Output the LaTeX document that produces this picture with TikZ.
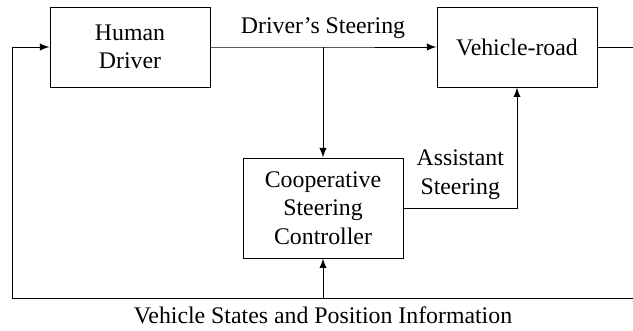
\documentclass[tikz,border=0pt]{standalone}
\usepackage{fontspec}
\setmainfont{Liberation Serif}
\usetikzlibrary{arrows.meta}

\begin{document}
\begin{tikzpicture}[x=0.42pt, y=-0.42pt,
    block/.style={draw, align=center, minimum width=67.2pt, minimum height=33.6pt}]
    \useasboundingbox (0,0) rectangle (633,331);
    
    \node[block] (HD) at (130,47) {Human\\Driver};
    \node[block] (VR) at (517,47) {Vehicle-road};
    \node[block, minimum height=42pt] (CSC) at (323,208) {Cooperative\\Steering\\Controller};
    
    \coordinate (B1) at (323,47);
    \coordinate (OUT) at (633,47);
    \coordinate (FR) at (633,298);
    \coordinate (FB) at (323,298);
    \coordinate (FL) at (12,298);
    \coordinate (FT) at (12,47);
    
    \draw[-latex] (HD.east) -- (B1) node[above] {Driver's Steering} -- (VR.west);
    \draw[-latex] (B1) -- (CSC.north);
    \draw[-latex] (CSC.east) -| node[pos=0.25, above, align=center] {Assistant\\Steering} (VR.south);
    \draw (VR.east) -- (OUT);
    
    \draw[-latex] (FR) -- (FL) -- (FT) -- (HD.west);
    \draw[-latex] (FB) node[below] {Vehicle States and Position Information} -- (CSC.south);
    
\end{tikzpicture}
\end{document}
